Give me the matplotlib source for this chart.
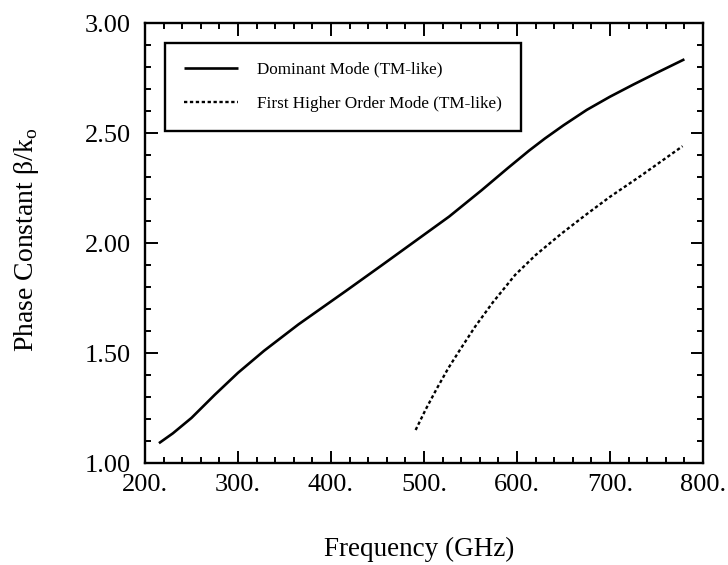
import matplotlib
matplotlib.use("Agg")
import matplotlib.pyplot as plt
from matplotlib.ticker import MultipleLocator, FormatStrFormatter

# Data
freq_dominant = [215, 230, 250, 275, 300, 328, 365, 417, 455, 491, 527, 562, 590, 613, 630, 650,
                 675, 700, 725, 750, 780]
beta_dominant = [1.09, 1.135, 1.205, 1.31, 1.41, 1.51, 1.63, 1.785, 1.90, 2.01, 2.12, 2.24, 2.34, 2.42,
                 2.475, 2.535, 2.605, 2.665, 2.72, 2.773, 2.835]

freq_higher = [491, 502, 514, 526, 538, 555, 574, 598, 620, 647, 673, 700, 733, 778]
beta_higher = [1.15, 1.245, 1.34, 1.43, 1.51, 1.62, 1.73, 1.855, 1.945, 2.04, 2.125, 2.21, 2.305, 2.44]

series_labels = ["Dominant Mode (TM-like)", "First Higher Order Mode (TM-like)"]
x_ticks = [200, 300, 400, 500, 600, 700, 800]
y_ticks = [1.00, 1.50, 2.00, 2.50, 3.00]

plt.rcParams['font.family'] = ['Liberation Serif', 'DejaVu Serif']
plt.rcParams['mathtext.fontset'] = 'custom'
plt.rcParams['mathtext.rm'] = 'Liberation Serif'

W, H = 728, 565
L, R, T, B = 145, 703, 23, 463

fig = plt.figure(figsize=(W/100, H/100), dpi=100)
ax = fig.add_axes([L/W, 1 - B/H, (R - L)/W, (B - T)/H])

ax.plot(freq_dominant, beta_dominant, color='black', lw=1.9, solid_capstyle='butt',
        solid_joinstyle='round', label=series_labels[0])
ax.plot(freq_higher, beta_higher, color='black', lw=1.7, linestyle=(0, (1.4, 1.1)),
        label=series_labels[1])

ax.set_xlim(200, 800)
ax.set_ylim(1.0, 3.0)
ax.set_xticks(x_ticks)
ax.set_yticks(y_ticks)
ax.xaxis.set_major_formatter(FormatStrFormatter('%d.'))
ax.yaxis.set_major_formatter(FormatStrFormatter('%.2f'))
ax.xaxis.set_minor_locator(MultipleLocator(20))
ax.yaxis.set_minor_locator(MultipleLocator(0.1))
ax.tick_params(which='both', direction='in', top=True, right=True, width=1.4, colors='black')
ax.tick_params(which='major', length=9, labelsize=19)
ax.tick_params(axis='y', which='major', pad=10)
ax.tick_params(axis='x', which='major', pad=8)
ax.tick_params(which='minor', length=4)
for s in ax.spines.values():
    s.set_linewidth(1.7)

ax.set_xlabel('Frequency (GHz)', fontsize=19.5)
ax.xaxis.set_label_coords((419 - L)/(R - L), (B - 549)/(B - T), transform=ax.transAxes)
ax.xaxis.label.set_va('center')
ax.set_ylabel('Phase Constant β/k$_\\mathrm{o}$', fontsize=20)
ax.yaxis.set_label_coords((26 - L)/(R - L), (B - 240)/(B - T), transform=ax.transAxes)
ax.yaxis.label.set_va('center')

leg = ax.legend(loc='upper left', bbox_to_anchor=((165 - L)/(R - L), 1 - (43 - T)/(B - T)),
                fontsize=12.3, frameon=True, fancybox=False, edgecolor='black', framealpha=1,
                borderpad=1.1, labelspacing=1.05, handlelength=3.2, handletextpad=1.1,
                borderaxespad=0)
leg.get_frame().set_linewidth(1.7)

fig.savefig('out.png', dpi=100)
